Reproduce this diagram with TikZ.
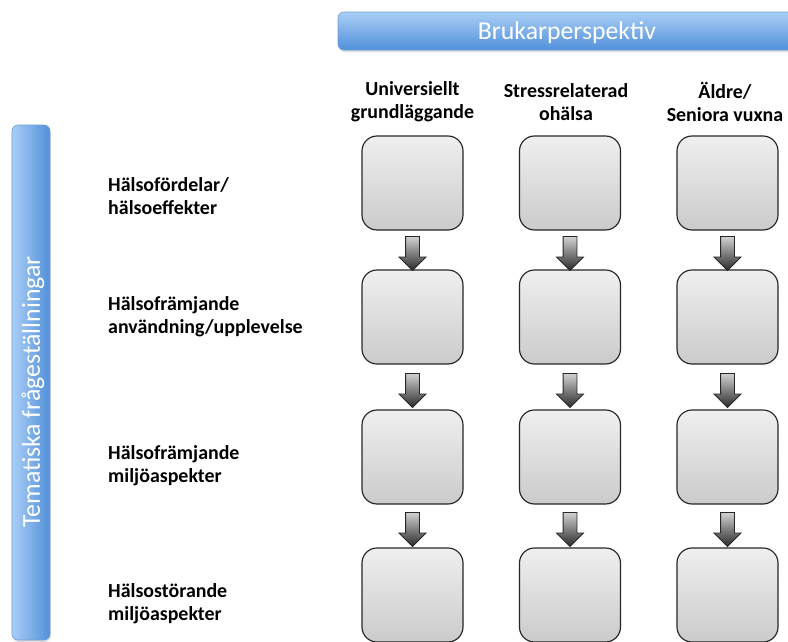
\documentclass[tikz,border=0pt]{standalone}
\usepackage{fontspec}
\setmainfont{Carlito}
\usetikzlibrary{shapes.arrows, shadows}

\definecolor{barlight}{HTML}{A9CEF6}
\definecolor{bardark}{HTML}{5290DA}
\definecolor{barline}{HTML}{6C9ED6}
\definecolor{boxtop}{HTML}{EFEFEF}
\definecolor{boxbottom}{HTML}{CBCBCB}
\definecolor{arrowtop}{HTML}{D2D2D2}
\definecolor{arrowbottom}{HTML}{2A2A2A}

\begin{document}
\begin{tikzpicture}[
        x=0.3mm, y=-0.3mm,
        every node/.style={font=\fontsize{17}{19.6}\selectfont\bfseries},
        bar/.style={rectangle, rounded corners=1.8mm, draw=barline, line width=0.2mm,
            drop shadow={opacity=0.25, shadow xshift=0.2mm, shadow yshift=-0.6mm}},
        bartext/.style={font=\fontsize{22}{26}\selectfont, text=white, inner sep=0},
        cell/.style={rectangle, rounded corners=4.5mm, draw=black!85, line width=0.35mm,
            top color=boxtop, bottom color=boxbottom,
            minimum width=30.3mm, minimum height=28.2mm, inner sep=0},
        downarrow/.style={single arrow, shape border rotate=270, draw=black!85,
            line width=0.25mm, top color=arrowtop, bottom color=arrowbottom,
            minimum height=10.2mm, inner sep=1.95mm,
            single arrow head extend=1.95mm, single arrow head indent=0mm},
        rowlabel/.style={anchor=west, align=left, inner sep=0},
        colhead/.style={align=center, inner sep=0}
    ]
        \useasboundingbox (0,0) rectangle (788,642);
        \clip (0,0) rectangle (788,642);

        % the two blue bars
        \node[bar, top color=barlight, bottom color=bardark,
            minimum width=138.6mm, minimum height=11.4mm] (userbar) at (569,31) {};
        \node[bartext] (user) at (567,33) {Brukarperspektiv};
        \node[bar, left color=barlight, right color=bardark,
            minimum width=11.4mm, minimum height=154.5mm] (themebar) at (31,382.5) {};
        \node[bartext, rotate=90] (theme) at (33,392) {Tematiska frågeställningar};

        % column heads
        \node[colhead] (hu) at (412.5,102) {Universiellt\\grundläggande};
        \node[colhead] (hs) at (566,102) {Stressrelaterad\\ohälsa};
        \node[colhead] (ha) at (725,102) {Äldre/\\Seniora vuxna};

        % row labels
        \node[rowlabel] (r1) at (108,196) {Hälsofördelar/\\hälsoeffekter};
        \node[rowlabel] (r2) at (108,316.5) {Hälsofrämjande\\användning/upplevelse};
        \node[rowlabel] (r3) at (108,466) {Hälsofrämjande\\miljöaspekter};
        \node[rowlabel] (r4) at (108,603.5) {Hälsostörande\\miljöaspekter};

        % boxes
        \node[cell] (u1) at (412.5,183) {};
        \node[cell] (u2) at (412.5,317) {};
        \node[cell] (u3) at (412.5,457) {};
        \node[cell] (u4) at (412.5,595) {};
        \node[cell] (s1) at (570,183) {};
        \node[cell] (s2) at (570,317) {};
        \node[cell] (s3) at (570,457) {};
        \node[cell] (s4) at (570,595) {};
        \node[cell] (a1) at (727.5,183) {};
        \node[cell] (a2) at (727.5,317) {};
        \node[cell] (a3) at (727.5,457) {};
        \node[cell] (a4) at (727.5,595) {};

        % arrows
        \foreach \c in {u,s,a} {
            \path (\c1.south) -- node[downarrow] {} (\c2.north);
            \path (\c2.south) -- node[downarrow] {} (\c3.north);
            \path (\c3.south) -- node[downarrow] {} (\c4.north);
        }
    \end{tikzpicture}
\end{document}
